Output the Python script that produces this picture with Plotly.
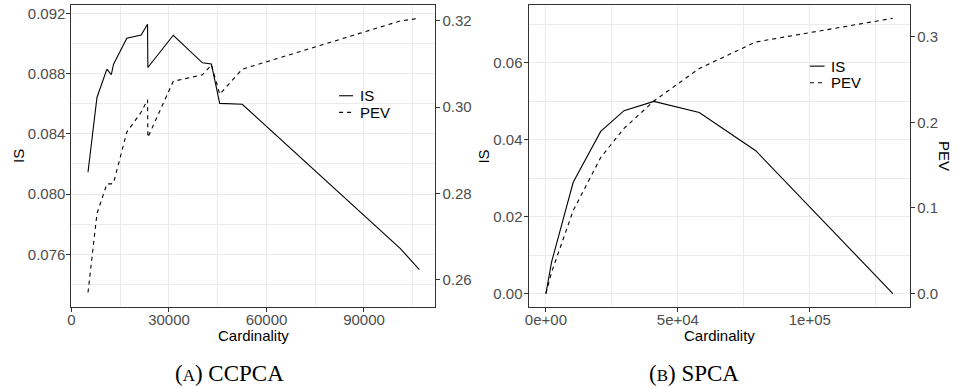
import plotly.graph_objects as go

# ---- CCPCA results ----
card_cc = [5080, 7840, 10900, 12250, 12950, 17020, 21430, 23400, 23500,
           31320, 40290, 43040, 45610, 52530, 101200, 107020]
is_cc = [0.08145, 0.08641, 0.08829, 0.08792, 0.08862, 0.09035, 0.09056, 0.09127,
         0.08840, 0.09054, 0.08871, 0.08864, 0.08602, 0.08596, 0.07638, 0.07499]
pev_cc = [0.2570, 0.2753, 0.2822, 0.2822, 0.2824, 0.2942, 0.2988, 0.3017,
          0.2930, 0.3060, 0.3075, 0.3098, 0.3030, 0.3088, 0.3200, 0.3206]

# ---- SPCA results ----
card_sp = [0, 2150, 10340, 20760, 29590, 40910, 58110, 79510, 131470]
is_sp = [0.0, 0.0082, 0.0289, 0.0421, 0.0475, 0.0499, 0.0470, 0.0371, 0.0]
pev_sp = [0.0, 0.025, 0.097, 0.159, 0.193, 0.225, 0.263, 0.294, 0.3217]

# ---- tick labels ----
cc_x_ticks = [0, 30000, 60000, 90000]
cc_x_labels = ["0", "30000", "60000", "90000"]
cc_is_ticks = [0.076, 0.080, 0.084, 0.088, 0.092]
cc_is_labels = ["0.076", "0.080", "0.084", "0.088", "0.092"]
cc_pev_ticks = [0.26, 0.28, 0.30, 0.32]
cc_pev_labels = ["0.26", "0.28", "0.30", "0.32"]

sp_x_ticks = [0, 50000, 100000]
sp_x_labels = ["0e+00", "5e+04", "1e+05"]
sp_is_ticks = [0.00, 0.02, 0.04, 0.06]
sp_is_labels = ["0.00", "0.02", "0.04", "0.06"]
sp_pev_ticks = [0.0, 0.1, 0.2, 0.3]
sp_pev_labels = ["0.0", "0.1", "0.2", "0.3"]

W, H = 959, 387
FONT = "Liberation Sans"
GRID = "#ebebeb"
DARK = "#333333"
TICKTXT = "#4d4d4d"


def px(x):
    return x / W


def py(y):
    return 1 - y / H


Y_DOM = [py(306.7), py(4.3)]

fig = go.Figure()
line_solid = dict(color="black", width=1.1)
line_dash = dict(color="black", width=1.1, dash="4px,4px")

fig.add_trace(go.Scatter(x=card_cc, y=is_cc, mode="lines", line=line_solid,
                         xaxis="x", yaxis="y", name="IS", showlegend=False))
fig.add_trace(go.Scatter(x=card_cc, y=pev_cc, mode="lines", line=line_dash,
                         xaxis="x", yaxis="y2", name="PEV", showlegend=False))
fig.add_trace(go.Scatter(x=card_sp, y=is_sp, mode="lines", line=line_solid,
                         xaxis="x2", yaxis="y3", name="IS", showlegend=False))
fig.add_trace(go.Scatter(x=card_sp, y=pev_sp, mode="lines", line=line_dash,
                         xaxis="x2", yaxis="y4", name="PEV", showlegend=False))

tickfont = dict(family=FONT, size=15, color=TICKTXT)


def axis_common(**kw):
    d = dict(showline=True, linecolor=DARK, linewidth=1, mirror=True,
             ticks="outside", ticklen=4, tickcolor=DARK, tickwidth=1,
             tickfont=tickfont, zeroline=False, tickmode="array",
             showgrid=True, gridcolor=GRID, gridwidth=1)
    d.update(kw)
    return d


def sec_axis(**kw):
    d = dict(side="right", tickmode="array", showgrid=False, zeroline=False,
             showline=False, ticks="outside", ticklen=4, tickcolor=DARK,
             tickwidth=1, tickfont=tickfont, ticklabelstandoff=-1)
    d.update(kw)
    return d


fig.update_layout(
    width=W, height=H,
    margin=dict(l=0, r=0, t=0, b=0),
    paper_bgcolor="white", plot_bgcolor="white",
    showlegend=False,
    font=dict(family=FONT, size=15, color="black"),
    xaxis=axis_common(domain=[px(67.7), px(433.3)], anchor="y", ticklabelstandoff=-5,
                      range=[-20, 112000], tickvals=cc_x_ticks, ticktext=cc_x_labels,
                      minor=dict(tickvals=[15000, 45000, 75000, 105000], showgrid=True,
                                 gridcolor=GRID, gridwidth=0.6, ticks="")),
    yaxis=axis_common(domain=Y_DOM, anchor="x", ticklabelstandoff=-2,
                      range=[0.07251, 0.09253], tickvals=cc_is_ticks, ticktext=cc_is_labels,
                      minor=dict(tickvals=[0.074, 0.078, 0.082, 0.086, 0.090], showgrid=True,
                                 gridcolor=GRID, gridwidth=0.6, ticks="")),
    yaxis2=sec_axis(overlaying="y", anchor="x", range=[0.25366, 0.32363],
                    tickvals=cc_pev_ticks, ticktext=cc_pev_labels),
    xaxis2=axis_common(domain=[px(526.7), px(910)], anchor="y3", ticklabelstandoff=-5,
                       range=[-6600, 138050], tickvals=sp_x_ticks, ticktext=sp_x_labels,
                       minor=dict(tickvals=[25000, 75000, 125000], showgrid=True,
                                  gridcolor=GRID, gridwidth=0.6, ticks="")),
    yaxis3=axis_common(domain=Y_DOM, anchor="x2", ticklabelstandoff=-2,
                       range=[-0.00347, 0.07487], tickvals=sp_is_ticks, ticktext=sp_is_labels,
                       minor=dict(tickvals=[0.01, 0.03, 0.05, 0.07], showgrid=True,
                                  gridcolor=GRID, gridwidth=0.6, ticks="")),
    yaxis4=sec_axis(overlaying="y3", anchor="x2", range=[-0.0156, 0.3369],
                    tickvals=sp_pev_ticks, ticktext=sp_pev_labels),
)

ann = []
shapes = []


def text(x, y, s, size=15, angle=0, family=FONT, xanchor="center", color="black"):
    ann.append(dict(x=px(x), y=py(y), xref="paper", yref="paper", text=s,
                    showarrow=False, textangle=angle, xanchor=xanchor, yanchor="middle",
                    font=dict(family=family, size=size, color=color)))


# axis titles
text(14, 155.5, "IS", angle=-90)
text(251, 335, "Cardinality")
text(481.5, 155.5, "IS", angle=-90)
text(718.3, 335, "Cardinality")
text(945, 155.5, "PEV", angle=90)

# sub-figure captions
SERIF = "Liberation Serif"
text(226.5, 373, "(<span style='font-size:17px'>A</span>) CCPCA", size=23, family=SERIF)
text(693, 373, "(<span style='font-size:17px'>B</span>) SPCA", size=23, family=SERIF)


def legend_box(x0, x1, y0, y1, y_is, y_pev, kx0, kx1, tx):
    shapes.append(dict(type="rect", xref="paper", yref="paper",
                       x0=px(x0), x1=px(x1), y0=py(y1), y1=py(y0),
                       fillcolor="white", line=dict(width=0), layer="between"))
    shapes.append(dict(type="line", xref="paper", yref="paper",
                       x0=px(kx0), x1=px(kx1), y0=py(y_is), y1=py(y_is),
                       line=dict(color="black", width=1.1)))
    shapes.append(dict(type="line", xref="paper", yref="paper",
                       x0=px(kx0), x1=px(kx1), y0=py(y_pev), y1=py(y_pev),
                       line=dict(color="black", width=1.1, dash="4px,4px")))
    text(tx, y_is, "IS", xanchor="left")
    text(tx, y_pev, "PEV", xanchor="left")


legend_box(330, 392, 65, 127, 95, 111.7, 336.5, 350.5, 355)
legend_box(803, 865, 35, 97, 65.3, 82, 809.3, 824, 828)

fig.update_layout(annotations=ann, shapes=shapes)
fig.write_html("out.html")
